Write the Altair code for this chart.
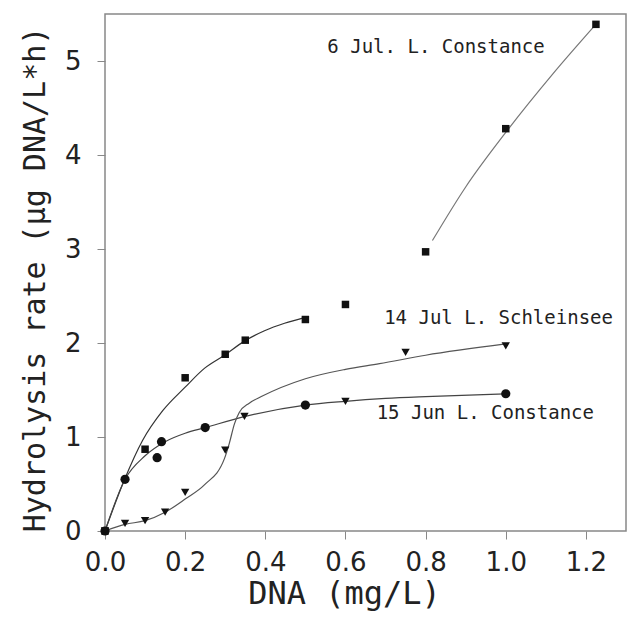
import altair as alt
import pandas as pd

# ---- measured points ----
sq_x = [0.0, 0.1, 0.2, 0.3, 0.35, 0.5, 0.6, 0.8, 1.0, 1.225]
sq_y = [0.0, 0.87, 1.63, 1.88, 2.03, 2.25, 2.41, 2.97, 4.28, 5.39]

ci_x = [0.0, 0.05, 0.13, 0.141, 0.25, 0.5, 1.0]
ci_y = [0.0, 0.55, 0.78, 0.95, 1.10, 1.34, 1.46]

tr_x = [0.0, 0.05, 0.1, 0.15, 0.2, 0.3, 0.348, 0.6, 0.75, 1.0]
tr_y = [0.0, 0.08, 0.11, 0.20, 0.41, 0.86, 1.22, 1.38, 1.90, 1.97]

# ---- fitted curves (vertices) ----
sqc1_x = [0.0, 0.048, 0.094, 0.144, 0.2, 0.248, 0.298, 0.348, 0.398, 0.448, 0.498]
sqc1_y = [0.0, 0.54, 0.965, 1.28, 1.53, 1.73, 1.87, 2.02, 2.13, 2.21, 2.27]

sqc2_x = [0.817, 0.9, 1.0, 1.117, 1.225]
sqc2_y = [3.09, 3.66, 4.24, 4.86, 5.39]

cic_x = [0.0, 0.05, 0.1, 0.15, 0.2, 0.25, 0.35, 0.5, 0.6, 0.7, 0.8, 1.0]
cic_y = [0.0, 0.55, 0.80, 0.95, 1.04, 1.10, 1.22, 1.34, 1.38, 1.41, 1.43, 1.46]

trc_x = [0.0, 0.05, 0.1, 0.15, 0.2, 0.248, 0.298, 0.31, 0.323, 0.335, 0.36, 0.39, 0.5, 0.6, 0.685, 0.8, 1.0]
trc_y = [0.0, 0.07, 0.11, 0.20, 0.34, 0.49, 0.77, 0.93, 1.14, 1.26, 1.36, 1.43, 1.62, 1.72, 1.78, 1.87, 1.99]

# ---- labels ----
lab_text = ["6 Jul. L. Constance", "14 Jul L. Schleinsee", "15 Jun L. Constance"]
lab_x = [0.826, 0.982, 0.949]
lab_y = [5.09, 2.20, 1.196]

x_ticks = [0.0, 0.2, 0.4, 0.6, 0.8, 1.0, 1.2]
y_ticks = [0, 1, 2, 3, 4, 5]

xs = alt.Scale(domain=[0, 1.3], nice=False, zero=False)
ys = alt.Scale(domain=[0, 5.5], nice=False, zero=False)

X = alt.X("x:Q", scale=xs, axis=alt.Axis(
    values=x_ticks, format=".1f", title="DNA (mg/L)", labelFlush=False,
    titleX=239, titleY=72, titleBaseline="alphabetic", titleAlign="center",
    titleFont="DejaVu Sans Mono", titleFontSize=32, titleFontWeight="normal",
    labelFontSize=26, labelPadding=10))
Y = alt.Y("y:Q", scale=ys, axis=alt.Axis(
    values=y_ticks, format="d", title="Hydrolysis rate (μg DNA/L*h)", labelFlush=False,
    titleX=-61, titleY=265, titleBaseline="alphabetic", titleAlign="center", titleAngle=270,
    titleFont="DejaVu Sans Mono", titleFontSize=30, titleFontWeight="normal",
    labelFontSize=26, labelPadding=16))

def df(xv, yv):
    return pd.DataFrame({"x": xv, "y": yv})

def curve(xv, yv, color):
    return alt.Chart(df(xv, yv)).mark_line(
        interpolate="monotone", color=color, strokeWidth=1.2).encode(x=X, y=Y)

layers = [
    curve(sqc1_x, sqc1_y, "#333333"),
    curve(sqc2_x, sqc2_y, "#777777"),
    curve(cic_x, cic_y, "#444444"),
    curve(trc_x, trc_y, "#555555"),
    alt.Chart(df(sq_x, sq_y)).mark_square(size=56, color="#111111", opacity=1).encode(x=X, y=Y),
    alt.Chart(df(ci_x, ci_y)).mark_circle(size=85, color="#111111", opacity=1).encode(x=X, y=Y),
    alt.Chart(df(tr_x, tr_y)).mark_point(shape="triangle-down", filled=True, size=70,
                                          color="#111111", opacity=1).encode(x=X, y=Y),
    alt.Chart(pd.DataFrame({"x": lab_x, "y": lab_y, "t": lab_text})).mark_text(
        font="DejaVu Sans Mono", fontSize=19, align="center", baseline="alphabetic",
        color="#222222").encode(x=X, y=Y, text="t:N"),
]

chart = alt.layer(*layers).properties(
    width=521, height=517,
    autosize=alt.AutoSizeParams(type="none"),
    padding={"left": 105, "top": 14, "right": 6, "bottom": 94},
).configure_view(
    stroke="#888888", strokeWidth=1.5
).configure_axis(
    grid=False, domain=False, ticks=True, tickSize=8, tickColor="#888888",
    labelFont="DejaVu Sans", labelColor="#222222", titleColor="#222222"
)

chart.save("out.html", embed_options={"renderer": "svg", "actions": False})
